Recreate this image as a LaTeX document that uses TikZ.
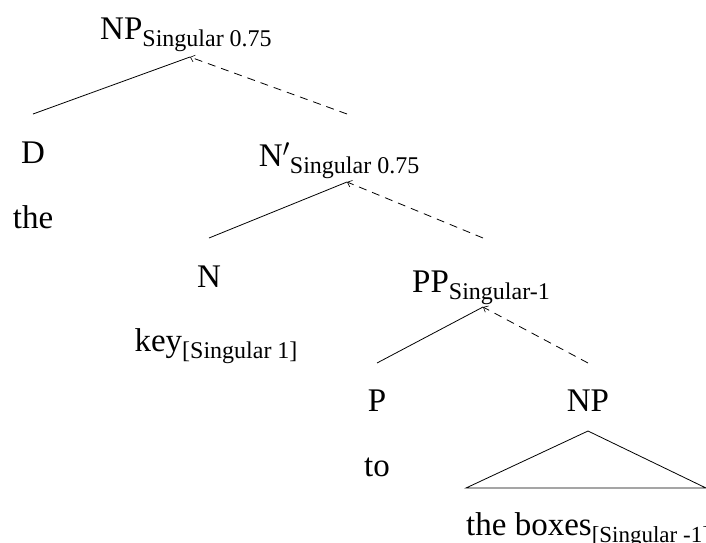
\documentclass[tikz,border=0pt]{standalone}
\usepackage{fontspec}
\setmainfont{Liberation Serif}
\usetikzlibrary{arrows.meta}
\newcommand{\subx}[1]{\raisebox{-7pt}{\fontsize{24}{27}\selectfont #1}}
\newcommand{\subxs}[1]{\raisebox{-7pt}{\fontsize{23}{27}\selectfont #1}}
\begin{document}
\begin{tikzpicture}[x=1pt,y=-1pt,
  lbl/.style={anchor=base,inner sep=0pt,font=\fontsize{33}{38}\selectfont},
  edge/.style={line width=0.8pt},
  hd/.style={line width=0.8pt,dash pattern=on 8pt off 6pt,-{Straight Barb[length=4pt,width=7pt,line width=0.6pt]}}]
\useasboundingbox (0,0) rectangle (706,542);
\fill[white] (0,0) rectangle (706,542);
% nodes
\node[lbl] (np) at (186,39) {NP\subx{Singular 0.75}};
\node[lbl] (d) at (33,163) {D};
\node[lbl] (the) at (33,228) {the};
\node[lbl] (nbar) at (339,166) {N$'$\subx{Singular 0.75}};
\node[lbl] (n) at (209,287) {N};
\node[lbl] (key) at (216,351) {key\subx{[Singular 1]}};
\node[lbl] (pp) at (481,292) {PP\subx{Singular-1}};
\node[lbl] (p) at (377,411) {P};
\node[lbl] (to) at (377,476) {to};
\node[lbl] (np2) at (588,411) {NP};
\node[lbl,anchor=base west] (boxes) at (466,535) {the boxes\subxs{[Singular -1]}};
% attachment points
\coordinate (a1) at (190,57);
\coordinate (c1l) at (33,114);
\coordinate (c1r) at (347,114);
\coordinate (a2) at (347,182);
\coordinate (c2l) at (209,238);
\coordinate (c2r) at (483,238);
\coordinate (a3) at (483,307);
\coordinate (c3l) at (377,363);
\coordinate (c3r) at (588,363);
\coordinate (t1) at (588,431);
\coordinate (t2) at (466,488);
\coordinate (t3) at (706,488);
% connectors
\draw[edge] (c1l) -- (a1);
\draw[hd] (c1r) -- (a1);
\draw[edge] (c2l) -- (a2);
\draw[hd] (c2r) -- (a2);
\draw[edge] (c3l) -- (a3);
\draw[hd] (c3r) -- (a3);
\draw[edge] (t2) -- (t1) -- (t3) -- cycle;
\end{tikzpicture}
\end{document}
